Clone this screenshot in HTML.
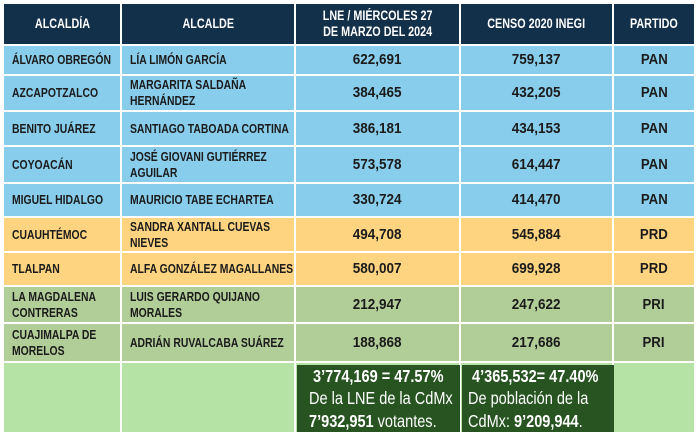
<!DOCTYPE html><html><head><meta charset="utf-8"><style>
body{margin:0;width:700px;height:438px;background:#fff;position:relative;overflow:hidden;font-family:"Liberation Sans",sans-serif;font-weight:bold}
.c{position:absolute;display:flex;align-items:center;box-sizing:border-box;color:#1b1b1b;font-size:13px;line-height:16px}
.c span{display:inline-block;transform:scaleX(.8);transform-origin:left center;white-space:nowrap}
.l{padding-left:8px}
.m{justify-content:center;text-align:center}
.m span{transform-origin:center}
.h{background:#12304a;color:#fff;font-size:13.5px}
.b{background:#88cdeb}.o{background:#fed480}.g{background:#b1cd98}.lg{background:#b4e3a5}
.n{font-size:15px}
.n span{transform:scaleX(.9)}
.p{font-size:15px}
.p span{transform:scaleX(.88)}
.dk{background:#275420;color:#fff;font-weight:normal;font-size:17.5px;line-height:22.5px}
.dk span{transform:scaleX(.83)}
</style></head><body>
<div id="t"></div>
<script>
var ys=[4,46,76,112,147,184,218,253,287,324,363,432],xs=[4,122,296,461,614,696];
var rows=[
["h",["ALCALDÍA","ALCALDE","LNE / MIÉRCOLES 27<br>DE MARZO DEL 2024","CENSO 2020 INEGI","PARTIDO"]],
["b",["ÁLVARO OBREGÓN","LÍA LIMÓN GARCÍA","622,691","759,137","PAN"]],
["b",["AZCAPOTZALCO","MARGARITA SALDAÑA<br>HERNÁNDEZ","384,465","432,205","PAN"]],
["b",["BENITO JUÁREZ","SANTIAGO TABOADA CORTINA","386,181","434,153","PAN"]],
["b",["COYOACÁN","JOSÉ GIOVANI GUTIÉRREZ<br>AGUILAR","573,578","614,447","PAN"]],
["b",["MIGUEL HIDALGO","MAURICIO TABE ECHARTEA","330,724","414,470","PAN"]],
["o",["CUAUHTÉMOC","SANDRA XANTALL CUEVAS<br>NIEVES","494,708","545,884","PRD"]],
["o",["TLALPAN","ALFA GONZÁLEZ MAGALLANES","580,007","699,928","PRD"]],
["g",["LA MAGDALENA<br>CONTRERAS","LUIS GERARDO QUIJANO<br>MORALES","212,947","247,622","PRI"]],
["g",["CUAJIMALPA DE<br>MORELOS","ADRIÁN RUVALCABA SUÁREZ","188,868","217,686","PRI"]]];
var h="";
rows.forEach(function(r,i){for(var j=0;j<5;j++){var x=xs[j],y=ys[i],w=xs[j+1]-x-2,hh=ys[i+1]-y-2;
var cls="c "+r[0]+(j<2&&i>0?" l":" m")+(j>=2&&j<4&&i>0?" n":"")+(j==4&&i>0?" p":"");
h+='<div class="'+cls+'" style="left:'+x+'px;top:'+y+'px;width:'+w+'px;height:'+hh+'px"><span>'+r[1][j]+'</span></div>';}});
var y=ys[10],hh=ys[11]-y;
for(var j=0;j<5;j++){h+='<div class="c lg" style="left:'+xs[j]+'px;top:'+y+'px;width:'+(xs[j+1]-xs[j]-2)+'px;height:'+hh+'px"></div>';}
h+='<div class="c dk l" style="left:297px;top:365px;width:163px;height:67px;padding-left:12px"><span>&nbsp;<b>3’774,169 = 47.57%</b><br>De la LNE de la CdMx<br><b>7’932,951</b> votantes.</span></div>';
h+='<div class="c dk l" style="left:462px;top:365px;width:152px;height:67px;padding-left:6px"><span>&nbsp;<b>4’365,532= 47.40%</b><br>De población de la<br>CdMx: <b>9’209,944</b>.</span></div>';
document.getElementById("t").innerHTML=h;
</script></body></html>
